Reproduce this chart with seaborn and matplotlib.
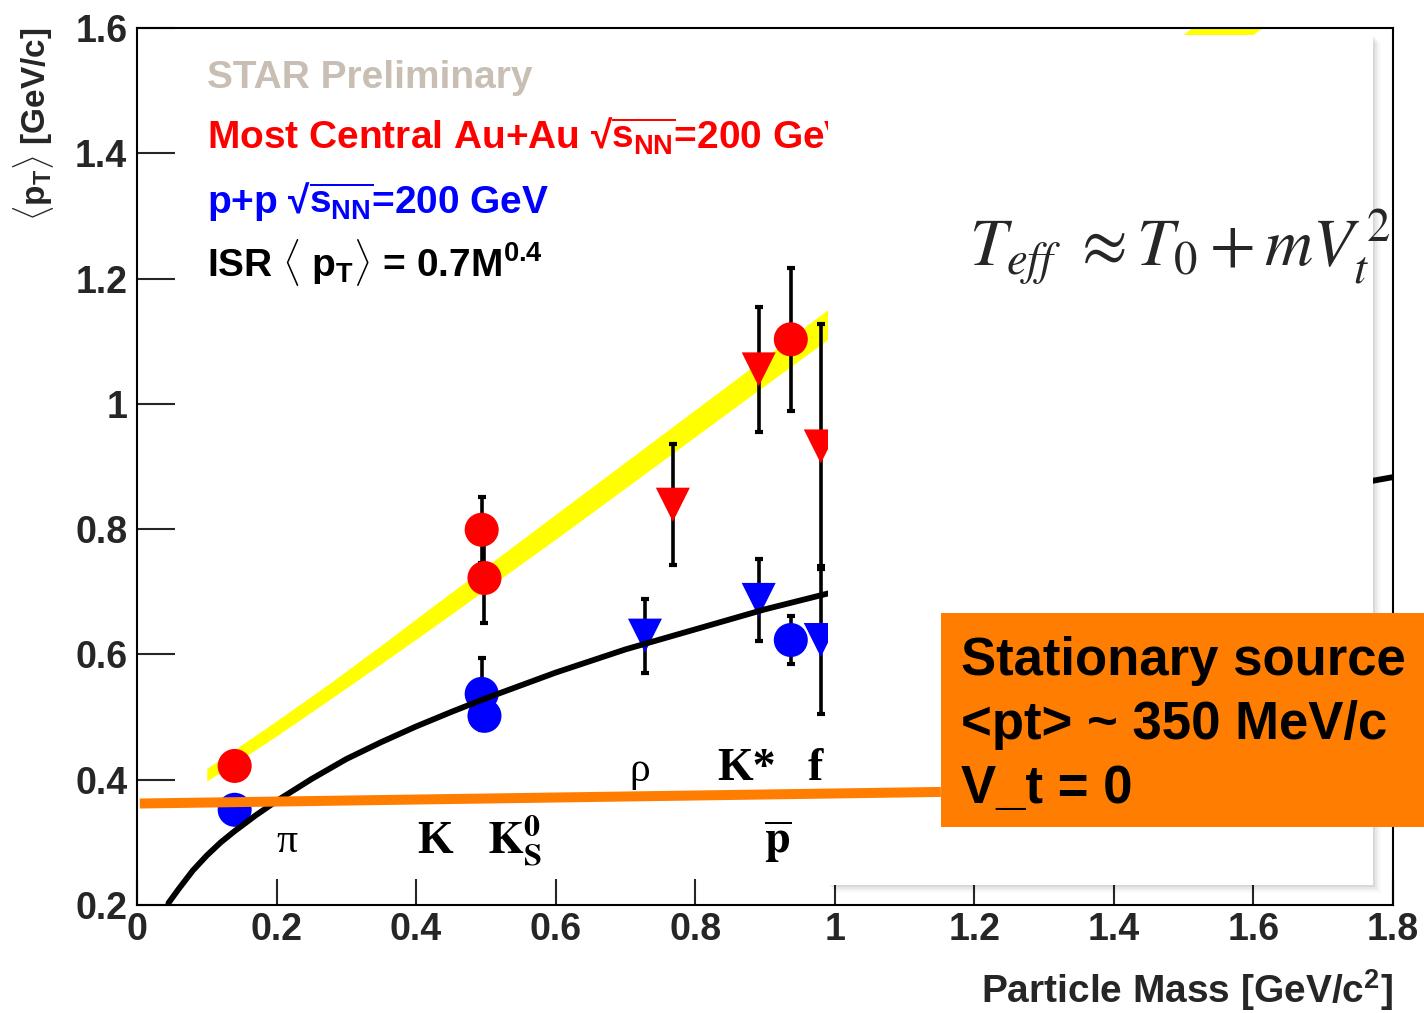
import matplotlib
matplotlib.use("Agg")
import matplotlib.pyplot as plt
from matplotlib.patches import Rectangle
from matplotlib.lines import Line2D
import pandas as pd
import seaborn as sns

# <pT> versus particle mass
species = ["pi", "K", "K0s", "rho", "Kstar", "p", "phi"]
marker_kind = ["circle", "circle", "circle", "triangle", "triangle", "circle", "triangle"]

auau_mass = [0.140, 0.494, 0.498, 0.768, 0.891, 0.937, 0.980]
auau_pt = [0.422, 0.799, 0.722, 0.839, 1.055, 1.103, 0.932]
auau_err = [0.0, 0.053, 0.072, 0.097, 0.100, 0.114, 0.196]

pp_mass = [0.140, 0.494, 0.498, 0.728, 0.891, 0.937, 0.980]
pp_pt = [0.352, 0.537, 0.502, 0.630, 0.687, 0.623, 0.623]
pp_err = [0.0, 0.058, 0.020, 0.059, 0.066, 0.038, 0.118]

# black ISR curve
isr_mass = [0.045, 0.06, 0.08, 0.10, 0.12, 0.14, 0.17, 0.20, 0.25, 0.30, 0.35,
            0.40, 0.45, 0.50, 0.60, 0.70, 0.80, 0.90, 1.00, 1.20, 1.40, 1.60, 1.80]
isr_pt = [0.203, 0.226, 0.255, 0.279, 0.300, 0.318, 0.343, 0.366, 0.401, 0.433,
          0.460, 0.485, 0.508, 0.530, 0.571, 0.608, 0.640, 0.672, 0.700, 0.752,
          0.799, 0.843, 0.883]

# yellow band (widens with mass)
band_mass = [0.10, 0.14, 0.20, 0.28, 0.36, 0.43, 0.50, 0.61, 0.87, 1.00,
             1.20, 1.40, 1.56, 1.80]
band_low = [0.398, 0.426, 0.470, 0.531, 0.593, 0.648, 0.704, 0.792, 1.005, 1.111,
            1.272, 1.432, 1.558, 1.750]
band_high = [0.418, 0.448, 0.494, 0.557, 0.623, 0.682, 0.740, 0.832, 1.049, 1.159,
             1.332, 1.504, 1.642, 1.850]

# orange "stationary source" line
src_mass = [0.004, 1.152]
src_pt = [0.362, 0.3805]

xticks = [0, 0.2, 0.4, 0.6, 0.8, 1.0, 1.2, 1.4, 1.6, 1.8]
xtick_labels = ["0", "0.2", "0.4", "0.6", "0.8", "1", "1.2", "1.4", "1.6", "1.8"]
yticks = [0.2, 0.4, 0.6, 0.8, 1.0, 1.2, 1.4, 1.6]
ytick_labels = ["0.2", "0.4", "0.6", "0.8", "1", "1.2", "1.4", "1.6"]

ORANGE = "#FF7D00"

sns.set_theme(style="ticks")
plt.rcParams["font.family"] = ["Liberation Sans", "DejaVu Sans"]
plt.rcParams["mathtext.fontset"] = "custom"
plt.rcParams["mathtext.rm"] = "Liberation Sans:bold"
plt.rcParams["mathtext.it"] = "Liberation Sans:bold"
plt.rcParams["mathtext.bf"] = "Liberation Sans:bold"
plt.rcParams["mathtext.sf"] = "Liberation Sans:bold"

df = pd.DataFrame({
    "mass": auau_mass + pp_mass,
    "pt": auau_pt + pp_pt,
    "system": ["AuAu"] * len(species) + ["pp"] * len(species),
    "shape": marker_kind * 2,
})

fig = plt.figure(figsize=(14.24, 10.13), dpi=100)
ax = fig.add_axes([0.0962, 0.1066, 0.8820, 0.8658])

ax.fill_between(band_mass, band_low, band_high, color="#FFFF00", lw=0, zorder=1)
ax.errorbar(auau_mass, auau_pt, yerr=auau_err, fmt="none", ecolor="black",
            elinewidth=2.6, capsize=3, capthick=3, zorder=2)
ax.errorbar(pp_mass, pp_pt, yerr=pp_err, fmt="none", ecolor="black",
            elinewidth=2.6, capsize=3, capthick=3, zorder=2)
sns.scatterplot(data=df[df.system == "pp"], x="mass", y="pt", style="shape",
                markers={"circle": "o", "triangle": "v"}, color="#0000FF",
                s=600, linewidth=0, legend=False, ax=ax, zorder=3)
sns.lineplot(x=isr_mass, y=isr_pt, color="black", lw=4.2, ax=ax, zorder=4)
sns.scatterplot(data=df[df.system == "AuAu"], x="mass", y="pt", style="shape",
                markers={"circle": "o", "triangle": "v"}, color="#FF0000",
                s=600, linewidth=0, legend=False, ax=ax, zorder=5)

ax.set_xlim(0, 1.8)
ax.set_ylim(0.2, 1.6)
ax.set_xticks(xticks, xtick_labels)
ax.set_yticks(yticks, ytick_labels)
ax.set_xlabel("")
ax.set_ylabel("")
ax.tick_params(axis="y", direction="in", length=27, width=1.5, pad=7,
               labelsize=27, right=False)
ax.tick_params(axis="x", direction="in", length=19, width=1.5, pad=5,
               labelsize=27, top=False)
for lab in ax.get_xticklabels() + ax.get_yticklabels():
    lab.set_fontweight("bold")
for sp in ax.spines.values():
    sp.set_linewidth(1.5)
    sp.set_color("black")

# particle names
times_bold = dict(family="Liberation Serif", fontweight="bold", fontsize=33,
                  color="black", va="baseline")
greek = dict(family="Liberation Serif", fontweight="normal", fontsize=30,
             color="black", ha="center", va="baseline")
ax.text(0.215, 0.285, "\u03c0", **greek)
ax.text(0.427, 0.283, "K", ha="center", **times_bold)
ax.text(0.501, 0.283, r"$\mathbf{K}^{\mathbf{0}}_{\mathbf{S}}$", ha="left",
        math_fontfamily="stix", fontsize=33, color="black", va="baseline")
ax.text(0.72, 0.398, "\u03c1", **greek)
ax.text(0.831, 0.400, "K*", ha="left", **times_bold)
ax.text(0.961, 0.400, "f", ha="left", **times_bold)
ax.text(0.918, 0.283, r"$\overline{\mathbf{p}}$", ha="center",
        math_fontfamily="stix", fontsize=33, color="black", va="baseline")

# legend-like text block
fig.text(0.1454, 0.9131, "STAR Preliminary", color="#C8BEB4", fontsize=28,
         fontweight="bold", va="baseline")
fig.text(0.1454, 0.8539, "Most Central Au+Au \u221a$\\overline{s_{NN}}$=200 GeV",
         color="#FF0000", fontsize=28, fontweight="bold", va="baseline")
fig.text(0.1454, 0.7897, "p+p \u221a$\\overline{s_{NN}}$=200 GeV", color="#0000FF",
         fontsize=28, fontweight="bold", va="baseline")
fig.text(0.1454, 0.7266, r"ISR $\langle$ p$_T\rangle$ = 0.7M$^{0.4}$", color="black",
         fontsize=28, fontweight="bold", va="baseline")

# axis titles
fig.text(0.0232, 0.9733, r"$\langle$p$_T\rangle$ [GeV/c]", rotation=90,
         fontsize=24, fontweight="bold", ha="center", va="top")
fig.text(0.9782, 0.0098, r"Particle Mass [GeV/c$^2$]", fontsize=28,
         fontweight="bold", ha="right", va="baseline")

# white overlay panel with soft shadow
wx0, wx1, wy0, wy1 = 0.5815, 0.9642, 0.1264, 0.9654
for k, a in enumerate([0.06, 0.045, 0.03, 0.02]):
    off = (k + 1) * 0.0014
    fig.add_artist(Rectangle((wx0 + off, wy0 - off * 1.4), wx1 - wx0, wy1 - wy0,
                             transform=fig.transFigure, facecolor="black",
                             edgecolor="none", alpha=a, zorder=5))
fig.add_artist(Rectangle((wx0, wy0), wx1 - wx0, wy1 - wy0, transform=fig.transFigure,
                         facecolor="white", edgecolor="none", zorder=6))

fig.text(0.6805, 0.7364, r"$T_{eff}\ \approx T_0 + mV_t^{\,2}$",
         math_fontfamily="stix", fontsize=48, fontweight="normal",
         va="baseline", ha="left", zorder=7)

# orange source line and box
fig.add_artist(Line2D(src_mass, src_pt, transform=ax.transData, color=ORANGE,
                      lw=7.2, solid_capstyle="butt", zorder=8))
fig.add_artist(Rectangle((0.6608, 0.1836), 1.0 - 0.6608, 0.3949 - 0.1836,
                         transform=fig.transFigure, facecolor=ORANGE,
                         edgecolor="none", zorder=8))
box_lines = ["Stationary source", "<pt> ~ 350 MeV/c", "V_t = 0"]
box_base = [0.3337, 0.2705, 0.2073]
for txt, yb in zip(box_lines, box_base):
    fig.text(0.6749, yb, txt, fontsize=38, fontweight="bold", color="black",
             va="baseline", ha="left", zorder=9)

fig.savefig("out.png", dpi=100)
